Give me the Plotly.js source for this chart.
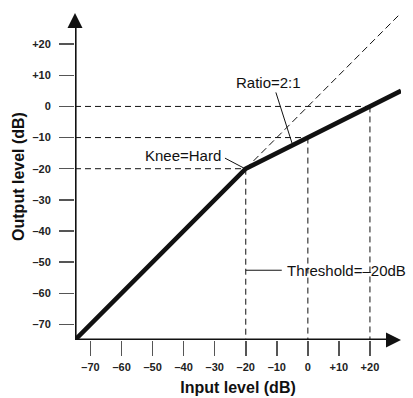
<!DOCTYPE html>
<html>
<head>
<meta charset="utf-8">
<script src="https://cdn.plot.ly/plotly-3.0.1.min.js"></script>
<style>html,body{margin:0;padding:0;background:#fff;}#chart{width:413px;height:398px;}</style>
</head>
<body>
<div id="chart"></div>
<script>
// Compressor transfer curve (hard knee, 2:1, threshold -20 dB)
var inputLevel = [-75, -20, 30];
var outputLevel = [-75, -20, 5];
// unity (1:1) reference continuation above threshold
var unityIn = [-20, 30];
var unityOut = [-20, 30];
// guide points (input, output)
var guideIn = [-20, 0, 20];
var guideOut = [-20, -10, 0];
// ticks
var tickVals = [-70, -60, -50, -40, -30, -20, -10, 0, 10, 20];
var tickText = ['\u201370', '\u201360', '\u201350', '\u201340', '\u201330', '\u201320', '\u201310', '0', '+10', '+20'];
var axisMin = -75, axisMax = 30;

var traces = [];
var dash = '6px,4px';
for (var i = 0; i < guideIn.length; i++) {
  traces.push({x: [axisMin, guideIn[i]], y: [guideOut[i], guideOut[i]], mode: 'lines',
    line: {color: '#111', width: 1, dash: dash}, hoverinfo: 'skip', showlegend: false});
  traces.push({x: [guideIn[i], guideIn[i]], y: [guideOut[i], axisMin], mode: 'lines',
    line: {color: '#111', width: 1, dash: dash}, hoverinfo: 'skip', showlegend: false});
}
traces.push({x: unityIn, y: unityOut, mode: 'lines', line: {color: '#111', width: 1, dash: '7px,4px'},
  hoverinfo: 'skip', showlegend: false, cliponaxis: false});
// axis arrows
traces.push({x: [axisMin, axisMin], y: [axisMin, axisMax - 4.5], mode: 'lines', line: {color: '#111', width: 3.2},
  hoverinfo: 'skip', showlegend: false, cliponaxis: false});
traces.push({x: [axisMin, axisMax - 4.5], y: [axisMin, axisMin], mode: 'lines', line: {color: '#111', width: 3.2},
  hoverinfo: 'skip', showlegend: false, cliponaxis: false});
traces.push({x: [axisMin], y: [axisMax], mode: 'markers', marker: {symbol: 'arrow-up', size: 15, color: '#111', line: {width: 0}},
  hoverinfo: 'skip', showlegend: false, cliponaxis: false});
traces.push({x: [axisMax], y: [axisMin], mode: 'markers', marker: {symbol: 'arrow-right', size: 15, color: '#111', line: {width: 0}},
  hoverinfo: 'skip', showlegend: false, cliponaxis: false});
// main curve
traces.push({x: inputLevel, y: outputLevel, mode: 'lines', line: {color: '#111', width: 4.5},
  hoverinfo: 'skip', showlegend: false, cliponaxis: false});

var tickFont = {family: 'Liberation Sans, Arial, sans-serif', size: 11, color: '#222', weight: 'bold'};
var titleFont = {family: 'Liberation Sans, Arial, sans-serif', size: 16, color: '#111', weight: 'bold'};
var noteFont = {family: 'Liberation Sans, Arial, sans-serif', size: 15, color: '#111'};

var layout = {
  width: 413, height: 398,
  margin: {l: 75, r: 12, t: 13, b: 58},
  paper_bgcolor: '#fff', plot_bgcolor: '#fff',
  showlegend: false,
  xaxis: {range: [axisMin, axisMax], showgrid: false, zeroline: false, showline: false,
    tickvals: tickVals, ticktext: tickText, ticks: 'outside', ticklen: 15, tickwidth: 1.5, tickcolor: '#555',
    ticklabelstandoff: 2,
    tickfont: tickFont, title: {text: 'Input level (dB)', font: titleFont, standoff: 9}},
  yaxis: {range: [axisMin, axisMax], showgrid: false, zeroline: false, showline: false,
    tickvals: tickVals, ticktext: tickText, ticks: 'outside', ticklen: 15, tickwidth: 1.5, tickcolor: '#555',
    ticklabelstandoff: 6,
    tickfont: tickFont, title: {text: 'Output level (dB)', font: titleFont, standoff: 3}},
  shapes: [
    {type: 'line', xref: 'x', yref: 'y', x0: -10.3, y0: 4.5, x1: -5.1, y1: -11.8, line: {color: '#111', width: 1}},
    {type: 'line', xref: 'x', yref: 'y', x0: -26.7, y0: -16.6, x1: -20.4, y1: -19.9, line: {color: '#111', width: 1}},
    {type: 'line', xref: 'x', yref: 'y', x0: -20, y0: -52.6, x1: -8.4, y1: -52.6, line: {color: '#111', width: 1}}
  ],
  annotations: [
    {xref: 'x', yref: 'y', x: -12.6, y: 7.8, text: 'Ratio=2:1', showarrow: false, font: noteFont, xanchor: 'center', yanchor: 'middle'},
    {xref: 'x', yref: 'y', x: -27.3, y: -15.6, text: 'Knee=Hard', showarrow: false, font: noteFont, xanchor: 'right', yanchor: 'middle'},
    {xref: 'x', yref: 'y', x: -7.3, y: -52.6, text: 'Threshold=\u201320dB', showarrow: false, font: noteFont, xanchor: 'left', yanchor: 'middle'}
  ]
};

Plotly.newPlot('chart', traces, layout, {displayModeBar: false, staticPlot: true});
</script>
</body>
</html>
